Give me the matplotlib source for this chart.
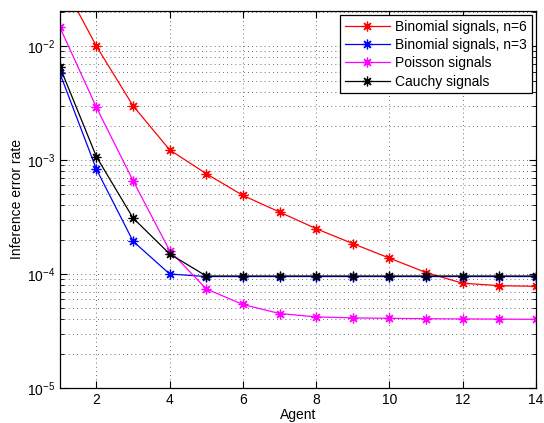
import numpy as np
import matplotlib
matplotlib.use("Agg")
import matplotlib.pyplot as plt
from matplotlib.ticker import LogLocator, NullFormatter

plt.rcParams['font.family'] = ['Liberation Sans', 'DejaVu Sans']
plt.rcParams['mathtext.default'] = 'regular'

# data
agents = np.arange(1, 15)
binom6 = [4.0e-2, 1.0e-2, 3.0e-3, 1.23e-3, 7.6e-4, 4.9e-4, 3.5e-4, 2.5e-4,
          1.85e-4, 1.38e-4, 1.03e-4, 8.3e-5, 7.9e-5, 7.8e-5]
binom3 = [5.8e-3, 8.3e-4, 1.94e-4, 1.0e-4, 9.5e-5, 9.5e-5, 9.5e-5, 9.5e-5,
          9.5e-5, 9.5e-5, 9.5e-5, 9.5e-5, 9.5e-5, 9.5e-5]
poisson = [1.47e-2, 2.9e-3, 6.6e-4, 1.6e-4, 7.4e-5, 5.4e-5, 4.5e-5, 4.2e-5,
           4.12e-5, 4.08e-5, 4.05e-5, 4.03e-5, 4.02e-5, 4.0e-5]
cauchy = [6.6e-3, 1.07e-3, 3.1e-4, 1.5e-4, 9.6e-5, 9.6e-5, 9.6e-5, 9.6e-5,
          9.6e-5, 9.6e-5, 9.6e-5, 9.6e-5, 9.6e-5, 9.6e-5]

labels = ['Binomial signals, n=6', 'Binomial signals, n=3',
          'Poisson signals', 'Cauchy signals']
colors = ['#ff0000', '#0000ff', '#ff00ff', '#000000']
series = [binom6, binom3, poisson, cauchy]

fig = plt.figure(figsize=(5.44, 4.23), dpi=100)
ax = fig.add_axes([0.110, 0.083, 0.875, 0.891])

ast = (8, 2, 0)
for y, c, lab in zip(series, colors, labels):
    ax.semilogy(agents, y, color=c, lw=0.9, marker=ast, ms=7, mew=0.9, label=lab)

ax.set_xlim(1, 14)
ax.set_ylim(1e-5, 2.04e-2)
ax.set_xticks(range(2, 15, 2))
ax.yaxis.set_major_locator(LogLocator(base=10, numticks=10))
ax.yaxis.set_minor_locator(LogLocator(base=10, subs=np.arange(2, 10), numticks=10))
ax.yaxis.set_minor_formatter(NullFormatter())

dots = (0, (1, 4))
ax.grid(True, which='major', ls=dots, color='#444444', lw=0.6)
ax.grid(True, which='minor', axis='y', ls=dots, color='#444444', lw=0.6)
ax.tick_params(which='both', direction='in', top=True, right=True, labelsize=10)
ax.tick_params(which='major', length=5)
ax.tick_params(which='minor', length=3)
for s in ax.spines.values():
    s.set_linewidth(0.9)

ax.set_xlabel('Agent', fontsize=10, labelpad=1)
ax.set_ylabel('Inference error rate', fontsize=10, labelpad=2)

leg = ax.legend(loc='upper right', fontsize=10, fancybox=False, framealpha=1,
                edgecolor='black', borderaxespad=0.3, handlelength=3.2,
                labelspacing=0.3, borderpad=0.35, handletextpad=0.4)
leg.get_frame().set_linewidth(0.9)

fig.savefig('out.png', dpi=100)
